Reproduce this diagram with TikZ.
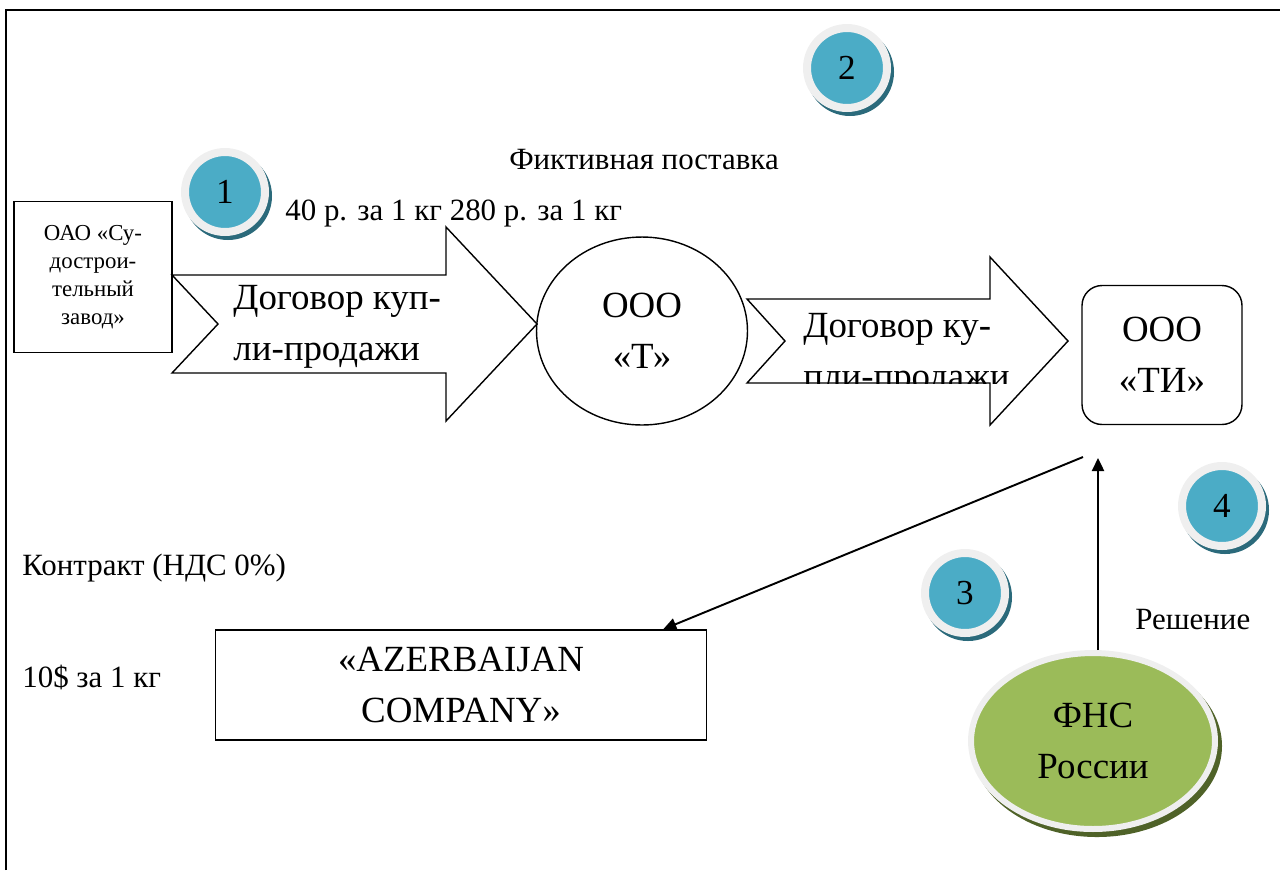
\documentclass[tikz,border=0pt]{standalone}
\usepackage{fontspec}
\setmainfont{Liberation Serif}
\usetikzlibrary{arrows.meta,shapes.geometric}

\definecolor{badgeteal}{HTML}{4BACC6}
\definecolor{badgeshadow}{HTML}{2B6A7B}
\definecolor{ringgray}{HTML}{EFEFEF}
\definecolor{fnsgreen}{HTML}{9BBB59}
\definecolor{fnsshadow}{HTML}{4F6228}

\newcommand{\sizeL}{\fontsize{21}{29}\selectfont}
\newcommand{\sizeS}{\fontsize{17.6}{20}\selectfont}
\newcommand{\sizeB}{\fontsize{13}{16}\selectfont}

\tikzset{
  firm/.style={draw, line width=0.8pt, align=center, inner sep=2pt},
  blockarrow/.style={draw, line width=0.8pt, line join=miter},
  deal/.style={align=left, inner sep=0pt, font=\sizeL, anchor=west},
  note/.style={inner sep=0pt, font=\sizeS},
  badge/.style={circle, fill=badgeteal, draw=ringgray, line width=0.16cm,
    minimum size=1.6cm, inner sep=0pt, font=\fontsize{20}{20}\selectfont},
  fns/.style={ellipse, fill=fnsgreen, draw=ringgray, line width=0.12cm,
    minimum width=4.88cm, minimum height=3.52cm, align=center, font=\sizeL},
  conn/.style={line width=1.1pt, -{Triangle[length=7.5pt,width=7pt]}}
}

\begin{document}
\begin{tikzpicture}[x=0.02cm, y=-0.02cm]
\useasboundingbox (0,0) rectangle (1280,870);

% frame of the page
\draw[line width=1.4pt] (6,870) -- (6,10) -- (1280,10);

\def\yone{324};
\def\ytwo{341};

% first contract
\draw[blockarrow] (172,\yone-49) -- (446,\yone-49) -- (446,\yone-97) -- (537,\yone) -- (446,\yone+97) -- (446,\yone+49) -- (172,\yone+49) -- (218,\yone) -- cycle;
\node[deal] (deal1) at (233,327) {Договор куп-\\ли-продажи};

% second contract, text cut at the shaft
\draw[blockarrow] (747,\ytwo-42) -- (990,\ytwo-42) -- (990,\ytwo-84) -- (1068,\ytwo) -- (990,\ytwo+84) -- (990,\ytwo+42) -- (747,\ytwo+42) -- (785,\ytwo) -- cycle;
\begin{scope}
\clip (747,\ytwo-84) rectangle (1068,\ytwo+42);
\node[deal] (deal2) at (803,355) {Договор ку-\\пли-продажи};
\end{scope}

% firms
\node[firm, minimum width=3.16cm, minimum height=3.02cm, font=\sizeB] (oao) at (93,277) {ОАО «Су-\\дострои-\\тельный\\завод»};
\node[firm, ellipse, minimum width=4.22cm, minimum height=3.76cm, font=\sizeL] (t) at (642,331) {ООО\\«Т»};
\node[firm, rounded corners=0.4cm, minimum width=3.2cm, minimum height=2.78cm, font=\sizeL] (ti) at (1162,355) {ООО\\«ТИ»};
\node[firm, minimum width=9.82cm, minimum height=2.2cm, font=\sizeL] (azer) at (461,685) {«AZERBAIJAN\\COMPANY»};

% tax service
\fill[fnsshadow] (1097,746) ellipse[x radius=125, y radius=91];
\node[fns] (fns) at (1093,741) {ФНС\\России};

% connectors
\coordinate (fnsup) at (1098,458);
\coordinate (azstart) at (1083,457);
\draw[conn] (fnsup |- fns.north) -- (fnsup);
\draw[conn] (azstart) -- ([xshift=-0.88cm]azer.north east);

% numbered steps
\foreach \n/\bx/\bz in {1/225/192, 2/847/68, 3/965/593, 4/1222/506}{
  \fill[badgeshadow] (\bx+3,\bz+4) circle[radius=44];
  \node[badge] (badge\n) at (\bx,\bz) {\n};
}

% labels
\node[note] (fict) at (644,160) {Фиктивная поставка};
\node[note, anchor=west] (price) at (285,213) {40 р. за 1 кг 280 р. за 1 кг};
\node[note, anchor=west] (contract) at (22,568) {Контракт (НДС 0\%)};
\node[note, anchor=west] (usd) at (22,677) {10\$ за 1 кг};
\node[note, anchor=west] (decision) at (1135,620) {Решение};

\end{tikzpicture}
\end{document}
